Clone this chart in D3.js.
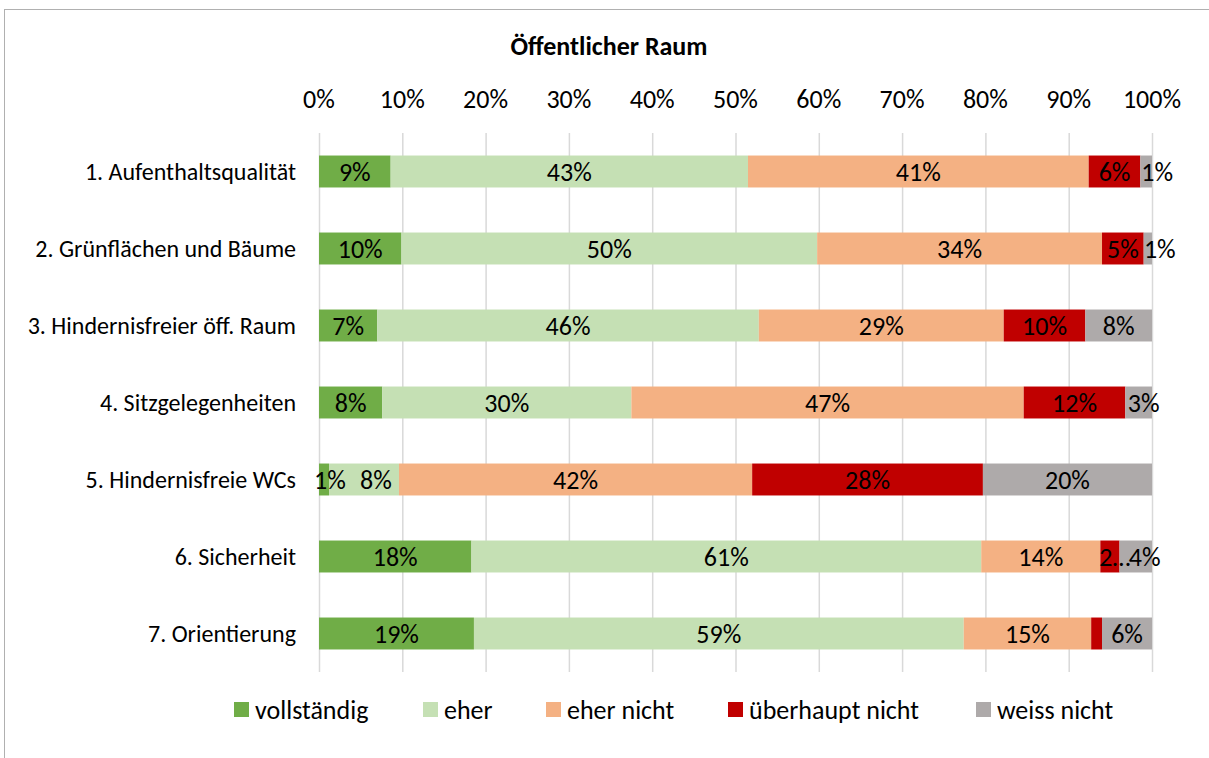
<!DOCTYPE html>
<html>
<head>
<meta charset="utf-8">
<script src="https://cdn.jsdelivr.net/npm/d3@7"></script>
<style>
  body { margin: 0; background: #fff; }
  text { font-family: Carlito, "Liberation Sans", Arial, sans-serif; fill: #000; }
</style>
</head>
<body>
<script>
// categories and answers
var categories = ["1. Aufenthaltsqualität", "2. Grünflächen und Bäume", "3. Hindernisfreier öff. Raum",
                  "4. Sitzgelegenheiten", "5. Hindernisfreie WCs", "6. Sicherheit", "7. Orientierung"];
var answers = ["vollständig", "eher", "eher nicht", "überhaupt nicht", "weiss nicht"];
var colors = ["#70AD47", "#C5E0B4", "#F4B183", "#C00000", "#AEAAAA"];

// percent per answer, one value per category
var vollstaendig   = [8.6, 9.9, 7.0, 7.6, 1.2, 18.3, 18.6];
var eher           = [42.9, 49.9, 45.8, 29.9, 8.4, 61.2, 58.8];
var eherNicht      = [40.9, 34.2, 29.4, 47.1, 42.4, 14.3, 15.3];
var ueberhauptNicht= [6.2, 5.0, 9.8, 12.2, 27.7, 2.3, 1.3];
var weissNicht     = [1.4, 1.0, 8.0, 3.2, 20.3, 3.9, 6.0];

var ticks = [0, 10, 20, 30, 40, 50, 60, 70, 80, 90, 100];

var series = [vollstaendig, eher, eherNicht, ueberhauptNicht, weissNicht];

var width = 1209, height = 758;
var margin = { top: 133, left: 319, right: 57, bottom: 86 };

var svg = d3.select("body").append("svg")
    .attr("width", width)
    .attr("height", height);

// chart frame
svg.append("rect")
    .attr("x", 4.5).attr("y", 9.5)
    .attr("width", 1220).attr("height", 770)
    .attr("fill", "none")
    .attr("stroke", "#b0b0b0");

svg.append("text")
    .attr("x", 609).attr("y", 55)
    .attr("text-anchor", "middle")
    .style("font-size", "26px")
    .style("font-weight", "bold")
    .text("Öffentlicher Raum");

var x = d3.scaleLinear().domain([0, 100]).range([margin.left, width - margin.right]);
var y = d3.scaleBand().domain(categories).range([margin.top, height - margin.bottom]).paddingInner(0.585).paddingOuter(0.2925);

// gridlines
svg.append("g").selectAll("line")
    .data(ticks)
    .enter().append("line")
    .attr("x1", function(d) { return x(d) + 0.5; })
    .attr("x2", function(d) { return x(d) + 0.5; })
    .attr("y1", margin.top)
    .attr("y2", height - margin.bottom)
    .attr("stroke", "#d9d9d9")
    .attr("stroke-width", 1.5);

// top axis labels
svg.append("g").selectAll("text")
    .data(ticks)
    .enter().append("text")
    .attr("x", function(d) { return x(d); })
    .attr("y", 108)
    .attr("text-anchor", "middle")
    .style("font-size", "26px")
    .text(function(d) { return d + "%"; });

// category labels
svg.append("g").selectAll("text")
    .data(categories)
    .enter().append("text")
    .attr("x", 296)
    .attr("y", function(d) { return y(d) + y.bandwidth() / 2; })
    .attr("dy", "0.35em")
    .attr("text-anchor", "end")
    .style("font-size", "24px")
    .text(function(d) { return d; });

// stacked table
var rows = categories.map(function(c, i) {
    var r = { cat: c };
    answers.forEach(function(a, k) { r[a] = series[k][i]; });
    return r;
});
var stack = d3.stack().keys(answers)(rows);

// labels that Excel hides, cuts or pushes aside
var hidden = { "6|3": true };
var truncated = { "5|3": "2…" };
var shifted = { "0|4": 11, "1|4": 12, "3|4": 5, "4|0": 6, "4|1": 12, "5|3": 5, "5|4": 9 };

var layers = svg.append("g").selectAll("g")
    .data(stack)
    .enter().append("g")
    .attr("fill", function(d, k) { return colors[k]; });

layers.selectAll("rect")
    .data(function(d) { return d; })
    .enter().append("rect")
    .attr("x", function(d) { return x(d[0]); })
    .attr("width", function(d) { return x(d[1]) - x(d[0]); })
    .attr("y", function(d) { return y(d.data.cat); })
    .attr("height", y.bandwidth());

var labels = [];
stack.forEach(function(layer, k) {
    layer.forEach(function(d, i) {
        var key = i + "|" + k;
        if (hidden[key]) return;
        labels.push({
            x: (x(d[0]) + x(d[1])) / 2 + (shifted[key] || 0),
            y: y(d.data.cat) + y.bandwidth() / 2,
            t: truncated[key] || Math.round(d[1] - d[0]) + "%"
        });
    });
});

svg.append("g").selectAll("text")
    .data(labels)
    .enter().append("text")
    .attr("x", function(d) { return d.x; })
    .attr("y", function(d) { return d.y; })
    .attr("dy", "0.35em")
    .attr("text-anchor", "middle")
    .style("font-size", "26px")
    .text(function(d) { return d.t; });

// legend
var legendX = [234, 423, 546, 728, 976];
var legend = svg.append("g").selectAll("g")
    .data(answers)
    .enter().append("g")
    .attr("transform", function(d, k) { return "translate(" + legendX[k] + ",702)"; });

legend.append("rect")
    .attr("width", 15).attr("height", 15)
    .attr("fill", function(d, k) { return colors[k]; });

legend.append("text")
    .attr("x", 21).attr("y", 8)
    .attr("dy", "0.35em")
    .style("font-size", "26px")
    .text(function(d) { return d; });
</script>
</body>
</html>
